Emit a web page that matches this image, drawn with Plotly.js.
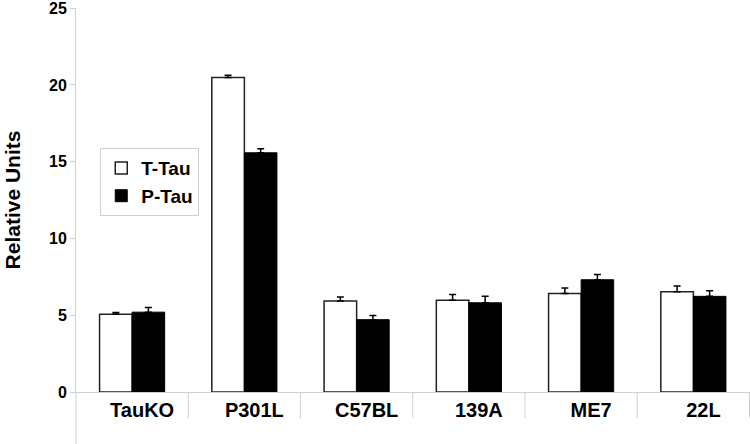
<!DOCTYPE html>
<html>
<head>
<meta charset="utf-8">
<script src="https://cdn.plot.ly/plotly-3.0.1.min.js"></script>
<style>html,body{margin:0;padding:0;background:#fff}#chart{width:750px;height:444px}</style>
</head>
<body>
<div id="chart"></div>
<script>
var categories = ["TauKO", "P301L", "C57BL", "139A", "ME7", "22L"];
var tTau = [5.07, 20.48, 5.92, 5.97, 6.42, 6.53];
var tTauErr = [0.1, 0.15, 0.27, 0.38, 0.35, 0.37];
var pTau = [5.2, 15.58, 4.71, 5.81, 7.31, 6.23];
var pTauErr = [0.3, 0.26, 0.28, 0.43, 0.35, 0.37];
var yTicks = [0, 5, 10, 15, 20, 25];

var FONT = "Liberation Sans, Arial, sans-serif";

var traces = [
  {
    type: "bar", name: "T-Tau", x: categories, y: tTau, legendgroup: "t",
    marker: {color: "#ffffff", line: {color: "#222222", width: 1.5}},
    error_y: {type: "data", symmetric: false, array: tTauErr, arrayminus: tTau.map(function(){return 0;}), color: "#000", thickness: 1.5, width: 3.5}
  },
  {
    type: "bar", name: "P-Tau", x: categories, y: pTau, legendgroup: "p",
    marker: {color: "#000000", line: {color: "#000000", width: 1}},
    error_y: {type: "data", symmetric: false, array: pTauErr, arrayminus: pTau.map(function(){return 0;}), color: "#000", thickness: 1.5, width: 3.5}
  }
];

var shapes = [];
shapes.push({type: "line", xref: "paper", yref: "paper", x0: 0, x1: 0, y0: -0.14, y1: 0, line: {color: "#d0d0d0", width: 1}});
for (var i = 0; i < categories.length; i++) {
  shapes.push({type: "line", xref: "x", yref: "paper", x0: i + 0.5, x1: i + 0.5, y0: -0.068, y1: 0, line: {color: "#d0d0d0", width: 1}});
}

var layout = {
  width: 750, height: 444,
  margin: {l: 76, r: 0, t: 8, b: 52},
  paper_bgcolor: "#fff", plot_bgcolor: "#fff",
  barmode: "group", bargap: 0.42, bargroupgap: 0,
  showlegend: true,
  legend: {
    x: 0.036, y: 0.635, xanchor: "left", yanchor: "top",
    bgcolor: "#fff", bordercolor: "#d0d0d0", borderwidth: 1,
    font: {family: FONT, size: 19, color: "#000", weight: "bold"},
    itemwidth: 30, tracegroupgap: 0, traceorder: "grouped"
  },
  xaxis: {
    type: "category",
    showline: true, linecolor: "#d0d0d0", linewidth: 1,
    ticks: "", showgrid: false, zeroline: false,
    tickfont: {family: FONT, size: 20, color: "#000", weight: "bold"},
    ticklabelshift: 10,
    fixedrange: true
  },
  yaxis: {
    range: [0, 25.01],
    tickvals: yTicks, ticktext: yTicks.map(String),
    showline: true, linecolor: "#d0d0d0", linewidth: 1,
    ticks: "outside", ticklen: 5, tickcolor: "#d0d0d0",
    showgrid: false, zeroline: false,
    tickfont: {family: FONT, size: 16, color: "#000", weight: "bold"},
    ticklabeloverflow: "allow",
    title: {text: "Relative Units", font: {family: FONT, size: 21, color: "#000", weight: "bold"}, standoff: 22},
    automargin: false
  },
  shapes: shapes
};

Plotly.newPlot("chart", traces, layout, {displayModeBar: false, staticPlot: true});
</script>
</body>
</html>
